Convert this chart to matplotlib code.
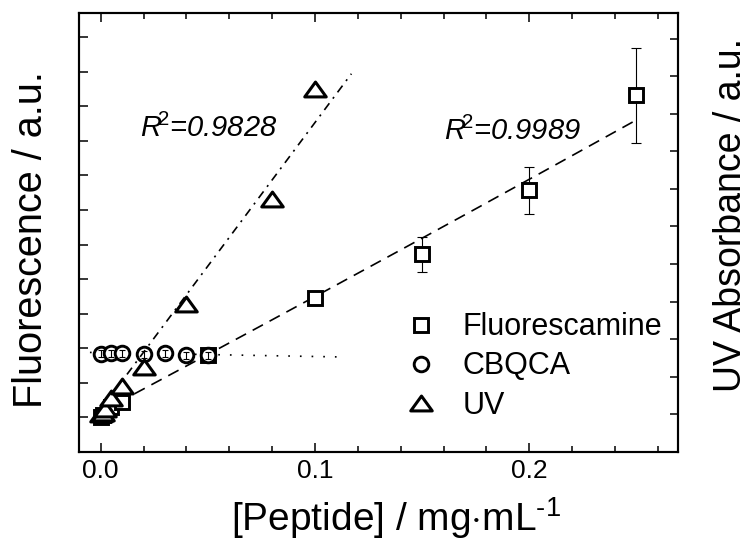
import matplotlib.pyplot as plt
import numpy as np
from matplotlib.lines import Line2D
from matplotlib.path import Path
from matplotlib.ticker import MultipleLocator, FormatStrFormatter

plt.rcParams['font.family'] = ['Liberation Sans', 'DejaVu Sans']
plt.rcParams['mathtext.fontset'] = 'custom'
plt.rcParams['mathtext.rm'] = 'Liberation Sans'
plt.rcParams['mathtext.it'] = 'Liberation Sans:italic'

# fluorescamine assay, left axis
fluor_x = [0.0, 0.001, 0.005, 0.01, 0.05, 0.1, 0.15, 0.2, 0.25]
fluor_y = [1.0, 1.08, 1.3, 1.45, 2.8, 4.46, 5.72, 7.57, 10.32]
fluor_err = [0.05, 0.05, 0.06, 0.08, 0.1, 0.12, 0.5, 0.68, 1.38]
fluor_fit = [2.88, 33.07, 1.16]   # quadratic, highest power first
fluor_fit_range = [0.0, 0.25]
fluor_r2 = 0.9989

# CBQCA assay, left axis
cbqca_x = [0.0, 0.005, 0.01, 0.02, 0.03, 0.04, 0.05]
cbqca_y = [2.84, 2.85, 2.86, 2.83, 2.85, 2.80, 2.80]
cbqca_err = [0.1, 0.1, 0.1, 0.1, 0.1, 0.1, 0.1]
cbqca_fit = [-1.12, 2.875]
cbqca_fit_range = [-0.005, 0.111]

# UV absorbance, right axis
uv_x = [0.0, 0.001, 0.002, 0.005, 0.01, 0.02, 0.04, 0.08, 0.1]
uv_y = [1.0, 1.05, 1.15, 1.43, 1.76, 2.25, 3.93, 6.73, 9.67]
uv_fit = [76.4, 1.126]
uv_fit_range = [0.0, 0.117]
uv_r2 = 0.9828

# wide open triangle
tri = Path([(-1, -0.69), (1, -0.69), (0, 0.69), (0, 0)],
           [Path.MOVETO, Path.LINETO, Path.LINETO, Path.CLOSEPOLY])

sq_style = dict(marker='s', ms=9.5, mew=2.1, mec='k', mfc='white', ls='none')
ci_style = dict(marker='o', ms=10.5, mew=2.1, mec='k', mfc='white', ls='none')
tr_style = dict(marker=tri, ms=15.5, mew=2.2, mec='k', mfc='white', ls='none')

fig = plt.figure(figsize=(7.49, 5.43), dpi=100)
ax = fig.add_axes([0.1055, 0.1676, 0.7997, 0.8084])
ax2 = ax.twinx()


def fit_line(axis, coef, xr, **kw):
    xs = np.linspace(xr[0], xr[1], 200)
    axis.plot(xs, np.polyval(coef, xs), color='k', lw=1.2, **kw)


fit_line(ax, fluor_fit, fluor_fit_range, dashes=(7, 4.5), zorder=1)
fit_line(ax, cbqca_fit, cbqca_fit_range, dashes=(1.0, 6.0), zorder=1)
fit_line(ax2, uv_fit, uv_fit_range, dashes=(5, 3.5, 1.2, 3.5), zorder=1)

ax.errorbar(fluor_x, fluor_y, yerr=fluor_err, fmt='none', ecolor='k',
            elinewidth=0.8, capsize=3.5, capthick=0.8, zorder=2)
ax.plot(fluor_x, fluor_y, zorder=3, **sq_style)
ax.plot(cbqca_x, cbqca_y, zorder=3, **ci_style)
ax.errorbar(cbqca_x, cbqca_y, yerr=cbqca_err, fmt='none', ecolor='k',
            elinewidth=0.8, capsize=2.5, capthick=0.8, zorder=4)
ax2.plot(uv_x, uv_y, zorder=3, **tr_style)

ax.set_xlim(-0.0101, 0.2694)
ax.set_ylim(0, 12.7)
ax2.set_ylim(0, 11.68)

ax.xaxis.set_major_locator(MultipleLocator(0.1))
ax.xaxis.set_minor_locator(MultipleLocator(0.02))
ax.xaxis.set_major_formatter(FormatStrFormatter('%.1f'))
ax.yaxis.set_major_locator(MultipleLocator(1))
ax2.yaxis.set_major_locator(MultipleLocator(1))
ax.tick_params(axis='x', which='both', direction='in', top=True, width=1.1,
               labelsize=19, pad=5)
ax.tick_params(axis='x', which='major', length=6.5)
ax.tick_params(axis='x', which='minor', length=4.5)
ax.tick_params(axis='y', direction='in', length=6.5, width=1.1,
               labelleft=False, right=False)
ax2.tick_params(axis='y', direction='in', length=6, width=1.1,
                labelright=False)

for a in (ax, ax2):
    for s in a.spines.values():
        s.set_linewidth(1.5)

ax.set_xlabel('[Peptide] / mg$\\cdot$mL$^{\\text{-}1}$', fontsize=28)
ax.xaxis.set_label_coords(0.529, -0.098)
ax.set_ylabel('Fluorescence / a.u.', fontsize=28.5)
ax.yaxis.set_label_coords(-0.048, 0.483)
ax2.set_ylabel('UV Absorbance / a.u.', fontsize=27)
ax2.yaxis.set_label_coords(1.058, 0.54)

ax.text(0.102, 0.718, '$R^{\\!\\!2}$=%.4f' % uv_r2, transform=ax.transAxes,
        fontsize=21, fontstyle='italic', va='baseline')
ax.text(0.609, 0.711, '$R^{\\!\\!2}$=%.4f' % fluor_r2, transform=ax.transAxes,
        fontsize=21, fontstyle='italic', va='baseline')

handles = [Line2D([], [], **sq_style), Line2D([], [], **ci_style),
           Line2D([], [], **tr_style)]
ax2.legend(handles, ['Fluorescamine', 'CBQCA', 'UV'], loc='center left',
           bbox_to_anchor=(0.50, 0.195), frameon=False, handlelength=1.0,
           handletextpad=0.85, labelspacing=0.3, prop={'size': 22})

fig.savefig('out.png', dpi=100)
